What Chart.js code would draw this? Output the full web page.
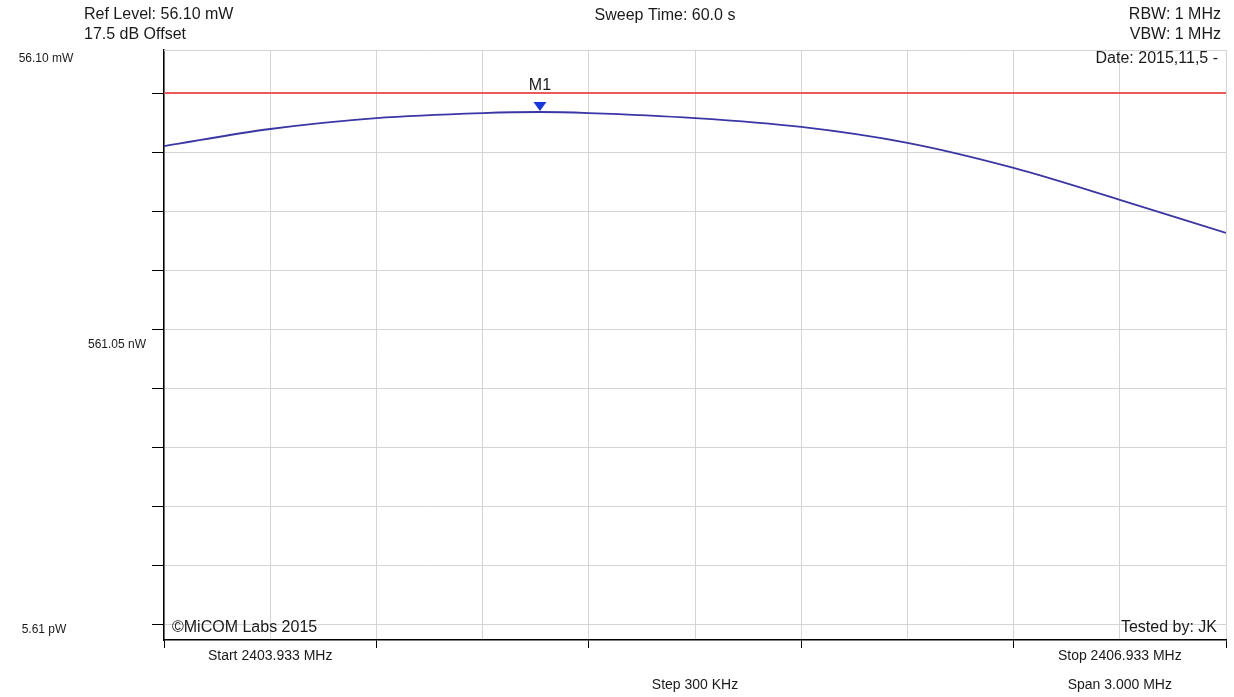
<!DOCTYPE html>
<html>
<head>
<meta charset="utf-8">
<script src="https://cdn.jsdelivr.net/npm/chart.js@4/dist/chart.umd.min.js"></script>
<style>
  body { margin: 0; background: #fff; }
  #wrap { width: 1234px; height: 697px; }
</style>
</head>
<body>
<div id="wrap"><canvas id="myChart" width="1234" height="697"></canvas></div>
<script>
// sweep: frequency (MHz) vs level (dBm, incl. 17.5 dB offset)
const freqs = [2403.933, 2404.233, 2404.533, 2404.833, 2404.995, 2405.133, 2405.433, 2405.733, 2406.033, 2406.333, 2406.633, 2406.933];
const levels = [-1.5, 1.4, 3.25, 4.1, 4.28, 4.1, 3.25, 1.75, -0.95, -5.2, -10.6, -16.2];

// limit line
const limitLevel = 7.5;

// marker M1 (peak)
const markerFreq = 2404.995;
const markerLevel = 4.28;

// axes
const xMin = 2403.933, xMax = 2406.933;
const xTicks = [2403.933, 2404.233, 2404.533, 2404.833, 2405.133, 2405.433, 2405.733, 2406.033, 2406.333, 2406.633, 2406.933];
const yMin = -85.21, yMax = 14.79;
const yTicks = [-82.5, -72.5, -62.5, -52.5, -42.5, -32.5, -22.5, -12.5, -2.5, 7.5];
const yLabels = [[17.5, "56.10 mW"], [-32.5, "561.05 nW"], [-82.5, "5.61 pW"]];

const FONT = '"Liberation Sans", Arial, sans-serif';

// Draws the instrument annotations, axis labels and marker
const textPlugin = {
  id: 'annotations',
  afterDraw(chart) {
    const ctx = chart.ctx;
    const xs = chart.scales.x, ys = chart.scales.y;
    const area = chart.chartArea;
    ctx.save();

    // top border of plot
    ctx.strokeStyle = '#d4d4d4';
    ctx.lineWidth = 1;
    ctx.beginPath();
    ctx.moveTo(area.left, area.top + 0.5);
    ctx.lineTo(area.right, area.top + 0.5);
    ctx.stroke();

    ctx.fillStyle = '#1a1a1a';
    ctx.textBaseline = 'middle';

    // header
    ctx.font = '16px ' + FONT;
    ctx.textAlign = 'left';
    ctx.fillText('Ref Level: 56.10 mW', 84, 15);
    ctx.fillText('17.5 dB Offset', 84, 35);
    ctx.textAlign = 'center';
    ctx.fillText('Sweep Time: 60.0 s', 665, 16);
    ctx.textAlign = 'right';
    ctx.fillText('RBW: 1 MHz', 1221, 15);
    ctx.fillText('VBW: 1 MHz', 1221, 35);
    ctx.fillText('Date: 2015,11,5 -', 1218, 59);

    // footer inside plot
    ctx.textAlign = 'left';
    ctx.fillText('\u00A9MiCOM Labs 2015', 172, area.bottom - 12);
    ctx.textAlign = 'right';
    ctx.fillText('Tested by: JK', 1217, area.bottom - 12);

    // y labels (instrument places the middle one next to the axis)
    ctx.font = '12px ' + FONT;
    ctx.textAlign = 'center';
    yLabels.forEach(([v, t], i) => {
      let y = ys.getPixelForValue(v);
      let x = 46;
      if (y < area.top) y = area.top + 9;
      else if (i === 1) { y += 16; x = 117; }
      else { y += 6; x = 44; }
      ctx.fillText(t, x, y);
    });

    // x labels
    ctx.font = '14px ' + FONT;
    ctx.textAlign = 'center';
    const xl = xs.getPixelForValue(xTicks[1]);
    const xr = xs.getPixelForValue(xTicks[9]);
    const xc = xs.getPixelForValue((xMin + xMax) / 2);
    ctx.fillText('Start ' + xMin.toFixed(3) + ' MHz', xl, area.bottom + 16);
    ctx.fillText('Stop ' + xMax.toFixed(3) + ' MHz', xr, area.bottom + 16);
    ctx.fillText('Step 300 KHz', xc, area.bottom + 45);
    ctx.fillText('Span ' + (xMax - xMin).toFixed(3) + ' MHz', xr, area.bottom + 45);

    // marker M1
    const mx = xs.getPixelForValue(markerFreq);
    const my = ys.getPixelForValue(markerLevel);
    ctx.fillStyle = '#1537e0';
    ctx.beginPath();
    ctx.moveTo(mx - 6.5, my - 10);
    ctx.lineTo(mx + 6.5, my - 10);
    ctx.lineTo(mx, my - 1);
    ctx.closePath();
    ctx.fill();
    ctx.fillStyle = '#1a1a1a';
    ctx.font = '16px ' + FONT;
    ctx.fillText('M1', mx, my - 26);

    ctx.restore();
  }
};

new Chart(document.getElementById('myChart'), {
  type: 'line',
  data: {
    datasets: [{
      data: freqs.map((f, i) => ({ x: f, y: levels[i] })),
      borderColor: '#3a36a4',
      borderWidth: 1.8,
      pointRadius: 0,
      cubicInterpolationMode: 'monotone',
      fill: false
    }, {
      data: [{ x: xMin, y: limitLevel }, { x: xMax, y: limitLevel }],
      borderColor: '#ee5a5a',
      borderWidth: 2.2,
      pointRadius: 0,
      fill: false
    }]
  },
  options: {
    responsive: false,
    animation: false,
    events: [],
    layout: { padding: { left: 152, right: 8, top: 50, bottom: 49 } },
    plugins: { legend: { display: false }, tooltip: { enabled: false } },
    scales: {
      x: {
        type: 'linear',
        min: xMin,
        max: xMax,
        afterBuildTicks: axis => { axis.ticks = xTicks.map(v => ({ value: v })); },
        ticks: { display: false },
        grid: {
          color: '#d4d4d4',
          lineWidth: 1,
          tickLength: 8,
          tickColor: c => (c.index % 2 === 0 ? '#000' : 'rgba(0,0,0,0)')
        },
        border: { color: '#000', width: 1.5 }
      },
      y: {
        type: 'linear',
        min: yMin,
        max: yMax,
        afterBuildTicks: axis => { axis.ticks = yTicks.map(v => ({ value: v })); },
        ticks: { display: false },
        grid: { color: '#d4d4d4', lineWidth: 1, tickLength: 12, tickColor: '#000' },
        border: { color: '#000', width: 1.5 }
      }
    }
  },
  plugins: [textPlugin]
});
</script>
</body>
</html>
